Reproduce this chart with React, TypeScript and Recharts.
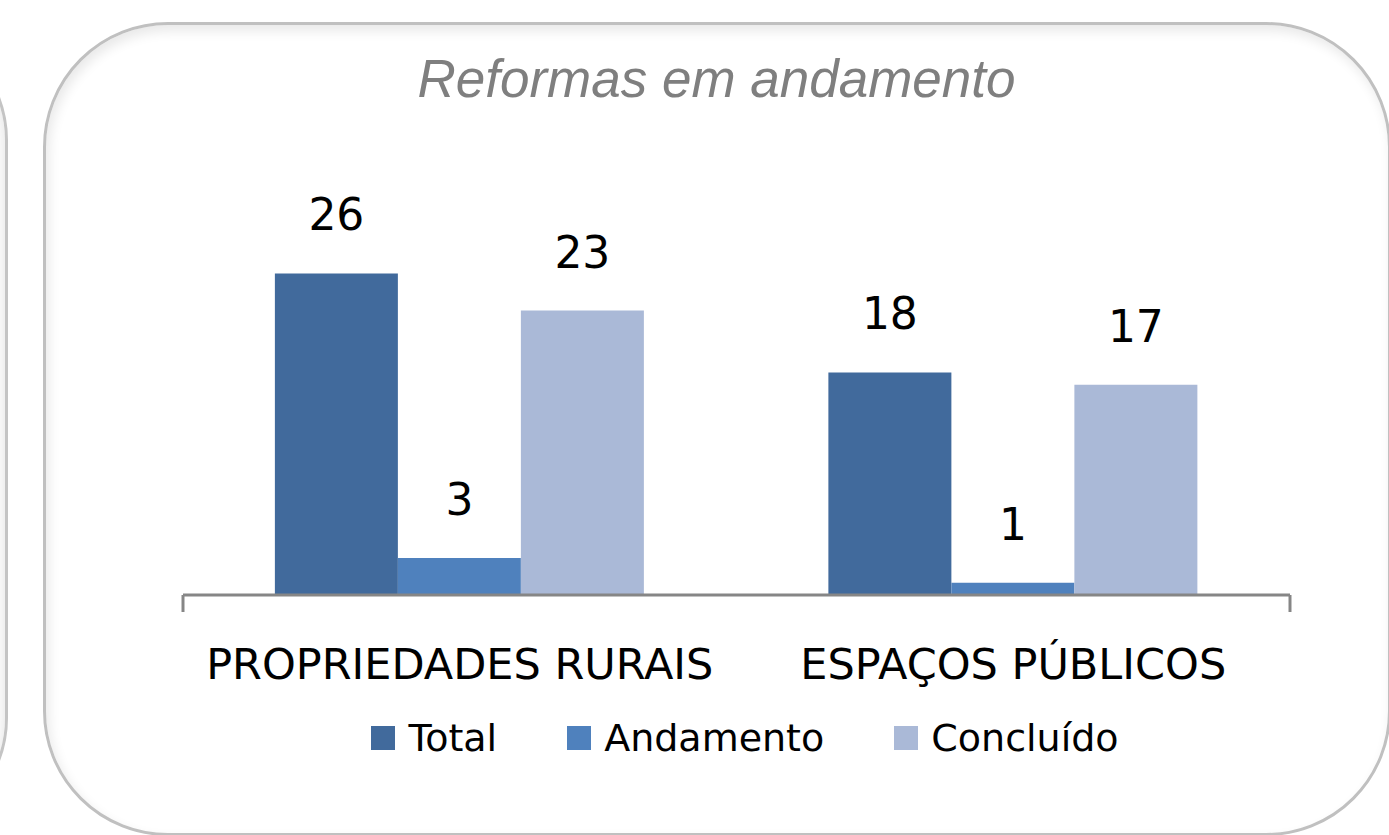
import {Bar, BarChart, LabelList, Legend, XAxis, YAxis} from 'recharts'

const categories = ['PROPRIEDADES RURAIS', 'ESPAÇOS PÚBLICOS']
const totalValues = [26, 18]
const andamentoValues = [3, 1]
const concluidoValues = [23, 17]
const boundaryTicks = [0, 1, 2]

const data = categories.map((name, i) => ({
  name,
  total: totalValues[i],
  andamento: andamentoValues[i],
  concluido: concluidoValues[i],
}))

const labelFont = '"DejaVu Sans", Verdana, sans-serif'

function LegendContent({payload}: any) {
  return (
    <div style={{display: 'flex', justifyContent: 'center', gap: 70, paddingLeft: 101, fontFamily: labelFont, fontSize: 38, color: '#000'}}>
      {(payload ?? []).map((entry: any) => (
        <div key={entry.value} style={{display: 'flex', alignItems: 'center', height: 52, gap: 13}}>
          <span style={{width: 24, height: 24, background: entry.color, display: 'inline-block'}} />
          <span>{entry.value}</span>
        </div>
      ))}
    </div>
  )
}

export default function App() {
  return (
    <div style={{position: 'fixed', left: 0, top: 0, width: 1389, height: 835, overflow: 'hidden', background: '#fff'}}>
      {/* neighbour panel, only its right edge shows */}
      <div
        style={{
          position: 'absolute',
          left: -1300,
          top: 20,
          width: 1302,
          height: 812,
          border: '3px solid #c4c4c4',
          borderRadius: 120,
          boxShadow: 'inset -4px 4px 10px rgba(0,0,0,0.08)',
        }}
      />
      <div
        style={{
          position: 'absolute',
          left: 43,
          top: 22,
          width: 1342,
          height: 808,
          border: '3px solid #c0c0c0',
          borderRadius: 125,
          boxShadow: 'inset 3px 6px 12px rgba(0,0,0,0.09)',
        }}
      />
      <div
        style={{
          position: 'absolute',
          left: 43,
          top: 48,
          width: 1347,
          textAlign: 'center',
          fontFamily: '"Liberation Sans", Arial, sans-serif',
          fontStyle: 'italic',
          fontSize: 53,
          color: '#7f7f7f',
        }}
      >
        Reformas em andamento
      </div>
      <div style={{position: 'absolute', left: 0, top: 0}}>
        <BarChart
          width={1389}
          height={835}
          data={data}
          margin={{top: 224, right: 99, bottom: 150, left: 183}}
          barCategoryGap="16.6%"
          barGap={0}
        >
          {/* boundary ticks + axis line, sits right under the bars */}
          <XAxis
            xAxisId="a_ticks"
            type="number"
            domain={[0, 2]}
            ticks={boundaryTicks}
            height={20}
            stroke="#868686"
            strokeWidth={3}
            tickSize={17}
            tickFormatter={() => ''}
          />
          <XAxis
            xAxisId="b_cats"
            dataKey="name"
            height={70}
            axisLine={false}
            tickLine={false}
            tickSize={0}
            tickMargin={33}
            tick={{fontFamily: labelFont, fontSize: 43, fill: '#000'}}
          />
          <YAxis hide domain={[0, 30]} />
          <Legend
            verticalAlign="middle"
            itemSorter={null}
            wrapperStyle={{top: 712, left: 0, width: 1389}}
            content={LegendContent}
          />
          <Bar xAxisId="b_cats" dataKey="total" name="Total" fill="#416a9c" isAnimationActive={false}>
            <LabelList dataKey="total" position="top" offset={43} fill="#000" fontSize={44} fontFamily={labelFont} />
          </Bar>
          <Bar xAxisId="b_cats" dataKey="andamento" name="Andamento" fill="#4f81bd" isAnimationActive={false}>
            <LabelList dataKey="andamento" position="top" offset={43} fill="#000" fontSize={44} fontFamily={labelFont} />
          </Bar>
          <Bar xAxisId="b_cats" dataKey="concluido" name="Concluído" fill="#aab9d7" isAnimationActive={false}>
            <LabelList dataKey="concluido" position="top" offset={43} fill="#000" fontSize={44} fontFamily={labelFont} />
          </Bar>
        </BarChart>
      </div>
    </div>
  )
}
